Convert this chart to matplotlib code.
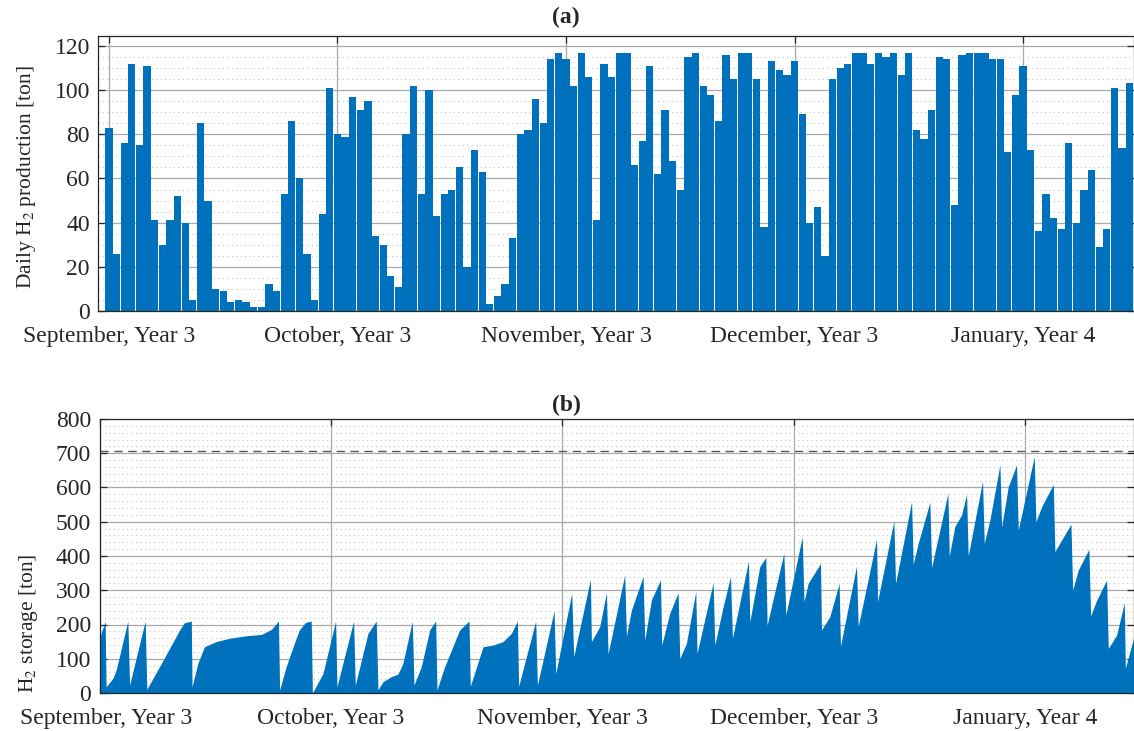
import matplotlib
matplotlib.use("Agg")
import matplotlib.pyplot as plt
import matplotlib.transforms as mtransforms
from matplotlib.ticker import MultipleLocator, FixedLocator
import numpy as np

plt.rcParams['font.family'] = ['Liberation Serif', 'DejaVu Serif']
plt.rcParams['mathtext.fontset'] = 'stix'
plt.rcParams['font.size'] = 17

# daily hydrogen production, one bar per day starting 1 September (ton)
production = [83, 26, 76, 112, 75, 111, 41, 30, 41, 52, 40, 5, 85, 50, 10, 9, 4, 5, 4, 2,
              2, 12, 9, 53, 86, 60, 26, 5, 44, 101,
              80, 79, 97, 91, 95, 34, 30, 16, 11, 80, 102, 53, 100, 43, 53, 55, 65, 20, 73, 63,
              3, 7, 12, 33, 80, 82, 96, 85, 114, 117,
              114, 102, 117, 106, 41, 112, 106, 117, 117, 66, 77, 111, 62, 91, 68, 55, 115, 117, 102, 98,
              86, 116, 105, 117, 117, 105, 38, 113, 109, 107,
              113, 89, 40, 47, 25, 105, 110, 112, 117, 117, 112, 117, 115, 117, 107, 117, 82, 78, 91, 115,
              114, 48, 116, 117, 117, 117, 114, 114, 72, 98,
              111, 73, 36, 53, 42, 37, 76, 40, 55, 64, 29, 37, 101, 74, 103]
days = np.arange(len(production))

# storage level (ton) at knot times (days since 1 September)
storage_day = [0, 0.73, 0.86, 1.73, 2.16, 3.67, 3.9, 5.92, 6.14, 7.78, 9.08, 10.38, 11.0, 11.9,
               12.0, 12.75, 13.6, 15.1, 16.9, 19.0, 21.0, 22.3, 23.2, 23.35, 24.2, 25.1, 25.9,
               26.7, 27.45, 27.6, 28.97, 30.61, 30.78, 32.94, 33.16, 34.8, 35.88, 36.1, 36.75,
               37.83, 38.69, 39.34, 40.55, 40.77, 41.72, 42.8, 43.58, 43.75, 44.75, 46.69, 47.9,
               48.07, 49.72, 51.02, 52.31, 53.39, 54.17, 54.34, 56.55, 56.77, 58.93, 59.15, 61.22,
               61.48, 63.64, 63.77, 64.85, 65.72, 65.93, 68.09, 68.31, 68.96, 70.47, 70.69, 71.55,
               72.72, 72.89, 73.93, 75.01, 75.23, 76.09, 77.3, 77.47, 79.55, 79.77, 80.85, 81.8,
               82.06, 84.13, 84.31, 85.6, 86.38, 86.55, 88.72, 88.98, 91.1, 91.33, 91.87, 93.47,
               93.6, 94.68, 95.89, 96.06, 98.14, 98.36, 100.74, 100.87, 102.98, 103.2, 105.28,
               105.49, 106.14, 107.65, 107.87, 109.99, 110.16, 110.89, 111.76, 112.41, 112.62,
               114.48, 114.7, 115.43, 116.73, 116.95, 117.81, 118.89, 119.11, 121.18, 121.4,
               122.14, 123.65, 123.86, 125.94, 126.16, 126.89, 128.27, 128.49, 129.27, 130.57,
               130.78, 131.86, 132.86, 132.99, 134.1]
storage_ton = [160, 210, 18, 43, 67, 210, 23, 210, 11, 77, 130, 184, 205, 210,
               18, 87, 135, 150, 160, 167, 171, 186, 210, 9, 77, 135, 184,
               206, 210, 0, 57, 210, 18, 210, 23, 174, 210, 9, 33,
               48, 55, 87, 210, 23, 77, 184, 210, 9, 77, 184, 210,
               20, 135, 140, 150, 174, 210, 20, 210, 23, 240, 57, 291,
               106, 332, 150, 194, 293, 114, 345, 166, 242, 340, 155, 272,
               330, 140, 233, 293, 101, 145, 296, 116, 322, 140, 252, 340,
               160, 385, 208, 369, 396, 198, 408, 228, 456, 267, 320, 378,
               184, 223, 320, 137, 371, 194, 449, 267, 502, 320, 559,
               376, 437, 557, 366, 583, 400, 486, 520, 580, 400,
               619, 437, 505, 666, 484, 602, 666, 476, 690, 500,
               544, 609, 413, 493, 301, 359, 420, 225, 271, 330,
               130, 169, 264, 72, 164]
capacity = 707

month_ticks = [0, 30, 60, 90, 120]
month_labels = ['September, Year 3', 'October, Year 3', 'November, Year 3',
                'December, Year 3', 'January, Year 4']

blue = '#0072BD'
dark = '#262626'

fig = plt.figure(figsize=(11.34, 7.31), dpi=100)
W, H = 1134, 731
ax1 = fig.add_axes([98.3 / W, 1 - 311 / H, (1133.5 - 98.3) / W, 275 / H])
ax2 = fig.add_axes([99.5 / W, 1 - 693 / H, (1133.5 - 99.5) / W, 274 / H])


def style(ax, minor_step):
    ax.set_axisbelow(True)
    ax.xaxis.set_major_locator(FixedLocator(month_ticks))
    ax.set_xticklabels(month_labels)
    ax.yaxis.set_minor_locator(MultipleLocator(minor_step))
    ax.grid(True, which='major', color='#a8a8a8', linewidth=0.9)
    ax.grid(True, which='minor', axis='y', color='#c4c4c4', linestyle=(0, (1, 3)),
            linewidth=0.8)
    ax.tick_params(which='major', direction='in', length=5, width=0.9, color=dark,
                   labelcolor=dark, top=True, right=True, pad=6)
    ax.tick_params(axis='x', which='major', pad=10.5)
    ax.tick_params(which='minor', length=0)
    for s in ax.spines.values():
        s.set_color(dark)
        s.set_linewidth(0.9)


# (a) daily production
ax1.bar(days, production, width=0.95, color=blue, linewidth=0)
ax1.set_xlim(-1.4, 134.5)
ax1.set_ylim(0, 124.5)
ax1.yaxis.set_major_locator(MultipleLocator(20))
style(ax1, 5)
ax1.set_ylabel('Daily H$_2$ production [ton]', color=dark, fontsize=15.5)
ax1.yaxis.set_label_coords(-0.058, 0.485)
ax1.text(0.4518, 1.069, '(a)', transform=ax1.transAxes, ha='center', va='center',
         fontweight='bold', color=dark)

# (b) storage level
ax2.fill_between(storage_day, storage_ton, color=blue, linewidth=0)
ax2.axhline(capacity, color='#555555', linestyle=(0, (6, 4)), linewidth=1.0)
ax2.set_xlim(0, 134.05)
ax2.set_ylim(0, 800)
ax2.yaxis.set_major_locator(MultipleLocator(100))
style(ax2, 20)
ax2.set_ylabel('H$_2$ storage [ton]', color=dark, fontsize=15.5)
ax2.yaxis.set_label_coords(-0.058, 0.255)
ax2.text(0.4518, 1.051, '(b)', transform=ax2.transAxes, ha='center', va='center',
         fontweight='bold', color=dark)

# keep the first month label inside the figure
first = ax2.get_xticklabels()[0]
first.set_transform(first.get_transform() +
                    mtransforms.ScaledTranslation(0.07, 0, fig.dpi_scale_trans))

fig.savefig('out.png', dpi=100)
